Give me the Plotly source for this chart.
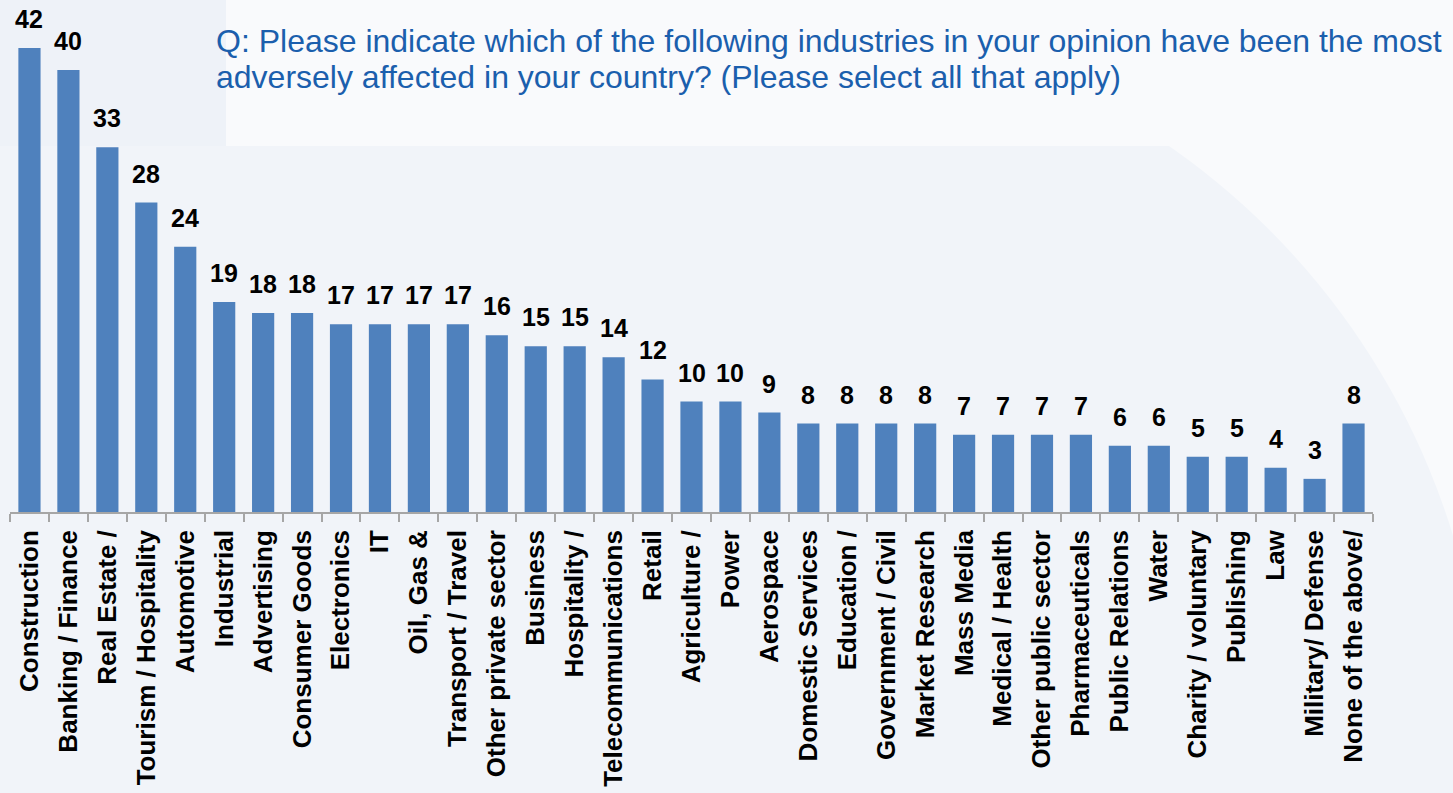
import plotly.graph_objects as go

categories = ["Construction", "Banking / Finance", "Real Estate /", "Tourism / Hospitality",
              "Automotive", "Industrial", "Advertising", "Consumer Goods", "Electronics", "IT",
              "Oil, Gas &", "Transport / Travel", "Other private sector", "Business",
              "Hospitality /", "Telecommunications", "Retail", "Agriculture /", "Power",
              "Aerospace", "Domestic Services", "Education /", "Government / Civil",
              "Market Research", "Mass Media", "Medical / Health", "Other public sector",
              "Pharmaceuticals", "Public Relations", "Water", "Charity / voluntary",
              "Publishing", "Law", "Military/ Defense", "None of the above/"]
values = [42, 40, 33, 28, 24, 19, 18, 18, 17, 17, 17, 17, 16, 15, 15, 14, 12, 10, 10,
          9, 8, 8, 8, 8, 7, 7, 7, 7, 6, 6, 5, 5, 4, 3, 8]

title_lines = ["Q: Please indicate which of the following industries in your opinion have been the most",
               "adversely affected in your country? (Please select all that apply)"]

W, H = 1453, 793
L, R, T, B = 10, 80, 10, 281
pw, ph = W - L - R, H - T - B
FONT = "Liberation Sans, Arial, sans-serif"


def px(x):
    return (x - L) / pw


def py(y):
    return (H - B - y) / ph


fig = go.Figure()
fig.add_trace(go.Bar(
    x=categories, y=values,
    marker=dict(color="#4f81bd", line=dict(width=0)),
    width=0.57,
    hoverinfo="x+y",
))

for c, v in zip(categories, values):
    fig.add_annotation(x=c, y=v, text=str(v), showarrow=False,
                       yanchor="bottom", yshift=13,
                       font=dict(family=FONT, size=25, color="black", weight="bold"))

for i, line in enumerate(title_lines):
    fig.add_annotation(xref="paper", yref="paper", x=px(214), y=py(21 + 36 * i),
                       xanchor="left", yanchor="top", align="left", showarrow=False,
                       text=line,
                       font=dict(family=FONT, size=32, color="#1b5fad"))

shapes = [
    dict(type="circle", xref="paper", yref="paper", x0=px(15), x1=px(1485), y0=py(15), y1=py(1485),
         fillcolor="#f1f4f9", line=dict(width=0), layer="below"),
    dict(type="rect", xref="paper", yref="paper", x0=px(0), x1=px(750), y0=py(146), y1=py(793),
         fillcolor="#f1f4f9", line=dict(width=0), layer="below"),
    dict(type="rect", xref="paper", yref="paper", x0=px(0), x1=px(226), y0=py(0), y1=py(146),
         fillcolor="#eef2f8", line=dict(width=0), layer="below"),
    dict(type="rect", xref="paper", yref="paper", x0=px(226), x1=px(1453), y0=py(0), y1=py(146),
         fillcolor="#f9fafc", line=dict(width=0), layer="below"),
]

fig.update_layout(
    width=W, height=H,
    margin=dict(l=L, r=R, t=T, b=B, autoexpand=False),
    paper_bgcolor="#f9fafc",
    plot_bgcolor="rgba(0,0,0,0)",
    showlegend=False,
    shapes=shapes,
    xaxis=dict(
        tickangle=-90,
        tickfont=dict(family=FONT, size=26, color="black", weight="bold"),
        showline=True, linecolor="#a6a6a6", linewidth=1.5,
        ticks="outside", tickson="boundaries", ticklen=8, tickcolor="#a6a6a6", tickwidth=1.5,
        showgrid=False, zeroline=False, automargin=False,
        ticklabelstandoff=6,
    ),
    yaxis=dict(range=[0, ph / 11.05], visible=False, showgrid=False, zeroline=False,
               automargin=False),
)

fig.write_html("out.html", config={"displayModeBar": False},
               post_script="document.body.style.margin='0';document.body.style.background='#f9fafc';")
